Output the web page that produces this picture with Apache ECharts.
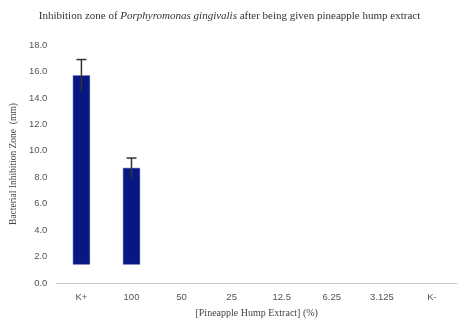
<!DOCTYPE html>
<html><head><meta charset="utf-8">
<script src="https://cdn.jsdelivr.net/npm/echarts@6/dist/echarts.min.js"></script>
<style>html,body{margin:0;padding:0;background:#fff}#c{width:459px;height:324px}</style>
</head><body><div id="c"></div>
<script>
const categories = ['K+', '100', '50', '25', '12.5', '6.25', '3.125', 'K-'];
const barBase = [1.4, 1.4, null, null, null, null, null, null];
const barTop = [15.7, 8.7, null, null, null, null, null, null];
const errorSize = [1.2, 0.75, null, null, null, null, null, null];
const yTicks = [0, 18, 2];

const chart = echarts.init(document.getElementById('c'), null, {renderer: 'canvas'});
const serif = '"Liberation Serif", "Times New Roman", serif';
const sans = '"Liberation Sans Narrow", "Liberation Sans", sans-serif';

chart.setOption({
  animation: false,
  title: {
    text: 'Inhibition zone of {i|Porphyromonas gingivalis} after being given pineapple hump extract',
    left: 'center', top: 6,
    textStyle: {
      fontFamily: serif, fontSize: 11, fontWeight: 'normal', color: '#333',
      rich: { i: { fontFamily: serif, fontSize: 11, fontStyle: 'italic', color: '#333' } }
    }
  },
  grid: { left: 54, right: 2, top: 45, bottom: 41 },
  xAxis: {
    type: 'category', data: categories,
    name: '[Pineapple Hump Extract] (%)', nameLocation: 'middle', nameGap: 25,
    nameTextStyle: { fontFamily: serif, fontSize: 10, color: '#444' },
    axisLine: { lineStyle: { color: '#c8c8c8' } },
    axisTick: { show: false },
    axisLabel: { fontFamily: sans, fontSize: 9.5, color: '#555', margin: 9 }
  },
  yAxis: {
    type: 'value', min: yTicks[0], max: yTicks[1], interval: yTicks[2],
    name: 'Bacterial Inhibition Zone  (mm)', nameLocation: 'middle', nameGap: 37,
    nameTextStyle: { fontFamily: serif, fontSize: 9.5, color: '#444' },
    axisLine: { show: false }, axisTick: { show: false }, splitLine: { show: false },
    axisLabel: { fontFamily: sans, fontSize: 9.5, color: '#555', margin: 9,
      formatter: v => v.toFixed(1) }
  },
  series: [
    { type: 'bar', stack: 's', data: barBase, barWidth: 17,
      itemStyle: { color: 'rgba(0,0,0,0)' }, silent: true },
    { type: 'bar', stack: 's', barWidth: 17,
      data: barTop.map((t, i) => t == null ? null : +(t - barBase[i]).toFixed(3)),
      itemStyle: { color: '#081883', borderColor: '#1a2a9a', borderWidth: 0.5 } },
    { type: 'custom', z: 10,
      data: barTop.map((t, i) => [i, t, errorSize[i]]).filter(d => d[1] != null),
      renderItem: function (params, api) {
        const x = api.value(0), v = api.value(1), e = api.value(2);
        const hi = api.coord([x, v + e]);
        const lo = api.coord([x, v - e]);
        const hw = 5;
        return { type: 'group', children: [
          { type: 'line', shape: { x1: hi[0], y1: hi[1], x2: lo[0], y2: lo[1] },
            style: { stroke: '#333', lineWidth: 1.5 } },
          { type: 'line', shape: { x1: hi[0] - hw, y1: hi[1], x2: hi[0] + hw, y2: hi[1] },
            style: { stroke: '#333', lineWidth: 1.5 } }
        ]};
      }
    }
  ]
});
</script></body></html>
